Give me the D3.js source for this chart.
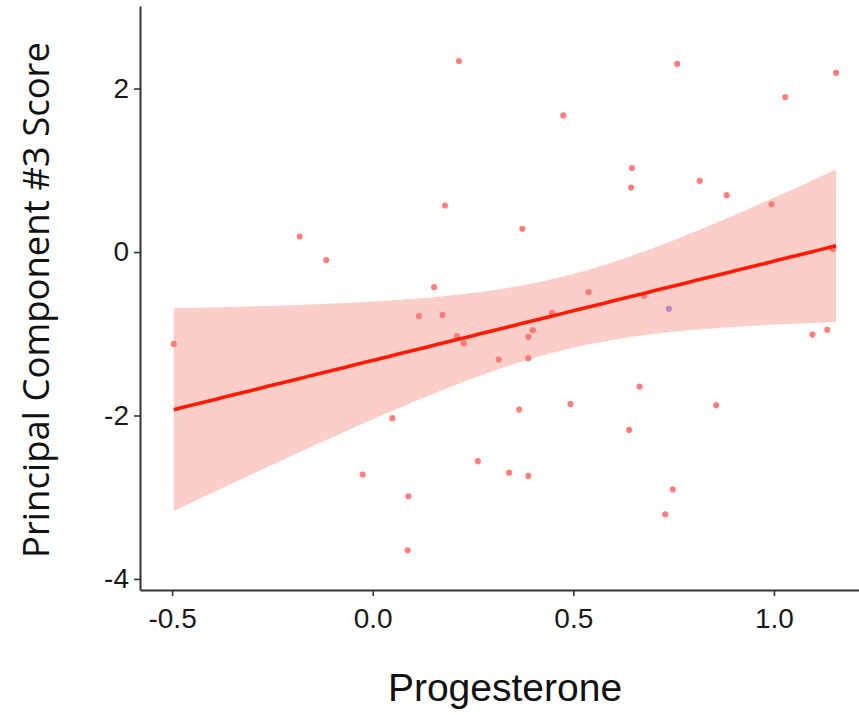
<!DOCTYPE html>
<html>
<head>
<meta charset="utf-8">
<script src="https://cdn.jsdelivr.net/npm/d3@7"></script>
<style>
body{margin:0;background:#fff;}
#viz{width:859px;height:715px;}
.tick_lbl{font-family:"Liberation Sans",Arial,sans-serif;font-size:28px;fill:#1a1a1a;}
</style>
</head>
<body>
<div id="viz"></div>
<script>
// progesterone (x) vs PC3 score (y)
var progesterone=[-0.496,-0.182,-0.116,-0.025,0.049,0.087,0.089,0.115,0.153,0.174,
  0.180,0.210,0.215,0.227,0.262,0.314,0.340,0.365,0.373,0.388,
  0.388,0.388,0.399,0.447,0.475,0.493,0.538,0.639,0.646,0.644,
  0.665,0.676,0.729,0.738,0.748,0.759,0.815,0.856,0.882,0.994,
  1.028,1.096,1.133,1.147,1.155];
var pc3=[-1.124,0.190,-0.099,-2.723,-2.033,-3.649,-2.988,-0.785,-0.430,-0.769,
  0.569,-1.029,2.337,-1.118,-2.559,-1.316,-2.699,-1.928,0.284,-1.299,
  -1.038,-2.739,-0.956,-0.744,1.671,-1.858,-0.491,-2.176,1.027,0.789,
  -1.646,-0.536,-3.208,-0.695,-2.905,2.301,0.871,-1.874,0.696,0.584,
  1.896,-1.010,-0.952,0.035,2.193];
// one subject is drawn in a second colour
var group=["a","a","a","a","a","a","a","a","a","a",
  "a","a","a","a","a","a","a","a","a","a",
  "a","a","a","a","a","a","a","a","a","a",
  "a","a","a","b","a","a","a","a","a","a",
  "a","a","a","a","a"];
var x_ticks=[-0.5,0.0,0.5,1.0];
var y_ticks=[-4,-2,0,2];

var width=859, height=715;
var svg=d3.select("#viz").append("svg")
  .attr("width",width)
  .attr("height",height);

var xScale=d3.scaleLinear().domain([-0.58,1.212]).range([140,859]);
var yScale=d3.scaleLinear().domain([-4.135,3.01]).range([590,6]);

// linear fit + 95% band (like geom_smooth(method="lm"))
var n=progesterone.length;
var mx=d3.mean(progesterone), my=d3.mean(pc3);
var sxx=0, sxy=0;
for(var i=0;i<n;i++){
  sxx+=(progesterone[i]-mx)*(progesterone[i]-mx);
  sxy+=(progesterone[i]-mx)*(pc3[i]-my);
}
var slope=sxy/sxx;
var icpt=my-slope*mx;
var sse=0;
for(var i=0;i<n;i++){
  var r=pc3[i]-(icpt+slope*progesterone[i]);
  sse+=r*r;
}
var s=Math.sqrt(sse/(n-2));
var tval=2.017; // t(0.975, 43)
console.log("fit",slope,icpt,s);

var xmin=d3.min(progesterone), xmax=d3.max(progesterone);
var grid=d3.range(0,81).map(function(k){return xmin+(xmax-xmin)*k/80;});
var band=grid.map(function(xv){
  var fit=icpt+slope*xv;
  var se=s*Math.sqrt(1/n+(xv-mx)*(xv-mx)/sxx);
  return {x:xv,fit:fit,lo:fit-tval*se,hi:fit+tval*se};
});

var pts=progesterone.map(function(d,i){return {x:d,y:pc3[i],g:group[i]};});

svg.append("g").selectAll("circle")
  .data(pts)
  .enter()
  .append("circle")
  .attr("cx",function(d){return xScale(d.x);})
  .attr("cy",function(d){return yScale(d.y);})
  .attr("r",3.1)
  .attr("fill",function(d){return d.g=="b"?"#4a1fc4":"#ff0000";})
  .attr("opacity",0.5);

svg.append("path")
  .datum(band)
  .attr("d",d3.area()
    .x(function(d){return xScale(d.x);})
    .y0(function(d){return yScale(d.lo);})
    .y1(function(d){return yScale(d.hi);}))
  .attr("fill","#f8766d")
  .attr("opacity",0.36);

svg.append("path")
  .datum(band)
  .attr("d",d3.line()
    .x(function(d){return xScale(d.x);})
    .y(function(d){return yScale(d.fit);}))
  .attr("fill","none")
  .attr("stroke","#ff1a00")
  .attr("stroke-width",3.6);

// plain hyphen for negatives, like the original
var fmtX=function(d){return d3.format(".1f")(d).replace("\u2212","-");};
var fmtY=function(d){return d3.format("d")(d).replace("\u2212","-");};

//axes
var xAxis=svg.append("g")
  .attr("transform","translate(0,590)")
  .call(d3.axisBottom(xScale).tickValues(x_ticks).tickFormat(fmtX).tickSize(6).tickSizeOuter(0).tickPadding(6));
var yAxis=svg.append("g")
  .attr("transform","translate(140,0)")
  .call(d3.axisLeft(yScale).tickValues(y_ticks).tickFormat(fmtY).tickSize(6).tickSizeOuter(0).tickPadding(5));

[xAxis,yAxis].forEach(function(a){
  a.select(".domain").attr("stroke","#333").attr("stroke-width",2);
  a.selectAll(".tick line").attr("stroke","#333").attr("stroke-width",1.6);
  a.selectAll(".tick text").attr("class","tick_lbl").attr("font-size",null).attr("font-family",null);
});
xAxis.selectAll(".tick text").attr("dy","0.92em");

svg.append("text")
  .attr("x",505)
  .attr("y",701)
  .text("Progesterone")
  .style("font-family","'Liberation Sans',Arial,sans-serif")
  .style("font-size","39px")
  .style("fill","#111")
  .style("text-anchor","middle");

svg.append("text")
  .attr("transform","translate(49,300) rotate(-90)")
  .text("Principal Component #3 Score")
  .style("font-family","'Open Sans',sans-serif")
  .style("font-size","36.5px")
  .style("fill","#111")
  .style("text-anchor","middle");
</script>
</body>
</html>
